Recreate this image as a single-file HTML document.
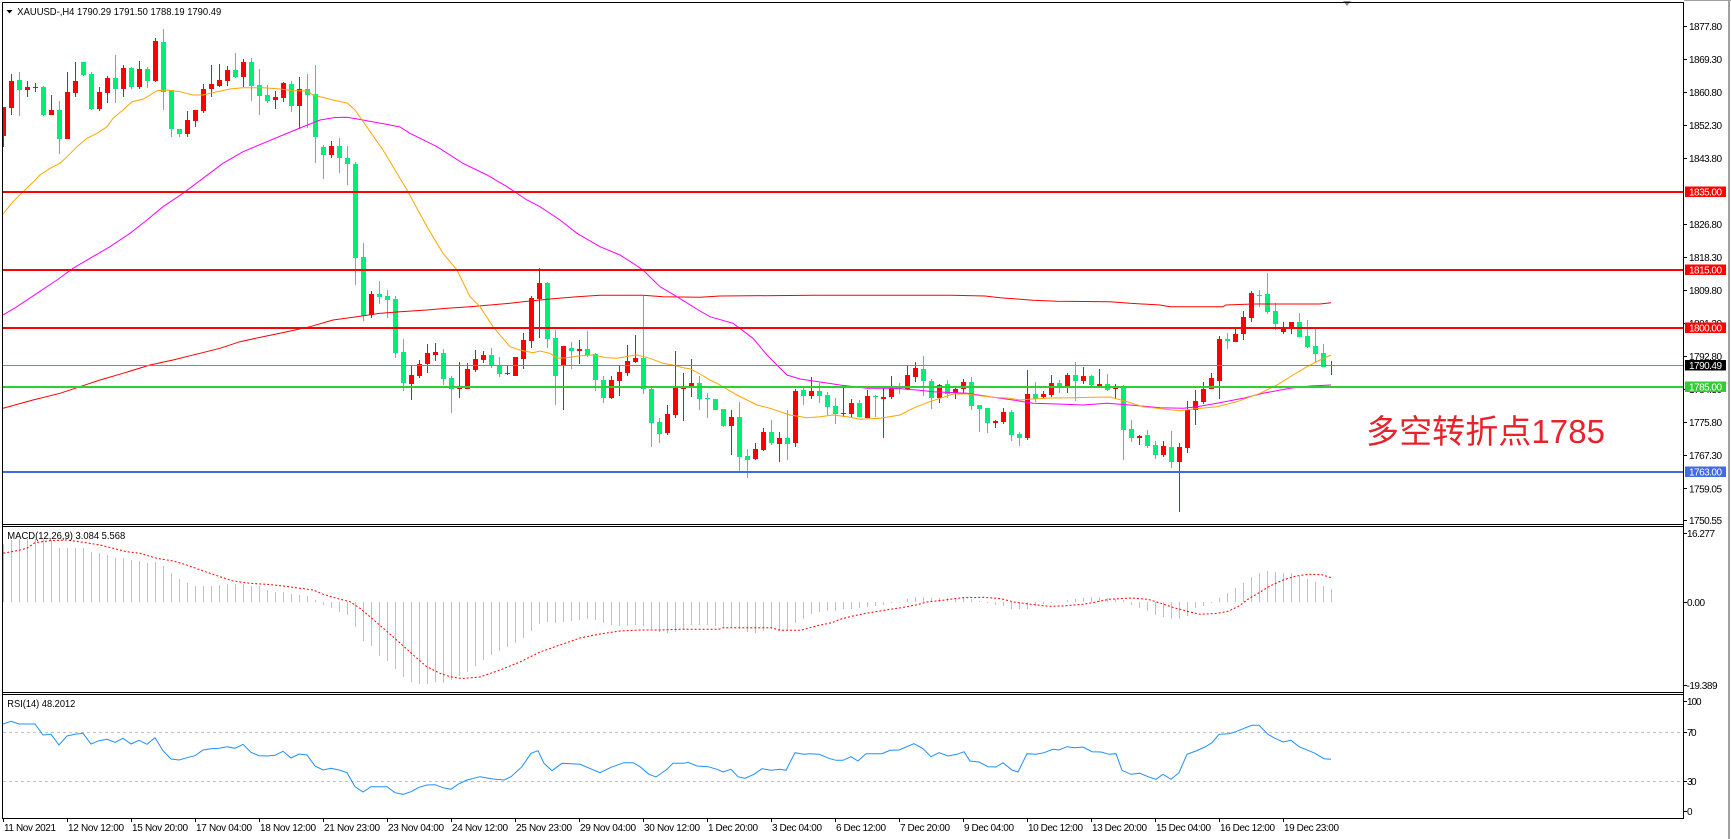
<!DOCTYPE html>
<html><head><meta charset="utf-8"><style>
html,body{margin:0;padding:0;background:#fff;}
svg{display:block;}
text{font-family:"Liberation Sans",Arial,sans-serif;font-size:10px;fill:#000;}
</style></head><body>
<svg width="1731" height="839" viewBox="0 0 1731 839" xmlns="http://www.w3.org/2000/svg">
<defs>
<clipPath id="cm"><rect x="3" y="3" width="1680" height="521"/></clipPath>
<clipPath id="cd"><rect x="3" y="527" width="1680" height="165"/></clipPath>
<clipPath id="cr"><rect x="3" y="695" width="1680" height="123"/></clipPath>
</defs>
<rect x="0" y="0" width="1731" height="839" fill="#fff"/>
<rect x="1728" y="0" width="2" height="839" fill="#a0a0a0"/>
<rect x="1684" y="0" width="47" height="1" fill="#a0a0a0"/>

<!-- MAIN PANEL -->
<g clip-path="url(#cm)">
<!-- candles green -->
<path fill="none" stroke="#00ee76" stroke-width="1" d="M19.5 72V116M43.5 86V116M59.5 101V154M83.5 62V76M91.5 72V110M115.5 55V103M131.5 67V89M147.5 67V88M163.5 29V110M171.5 90V137M179.5 129V137M235.5 53V78M251.5 58V101M259.5 69V115M267.5 85V103M291.5 81V112M307.5 74V128M315.5 65V163M323.5 145V179M339.5 138V173M347.5 146V185M355.5 162V285M363.5 243V321M379.5 281V304M387.5 290V318M395.5 296V358M403.5 339V391M443.5 349V385M451.5 376V413M491.5 348V368M499.5 357V377M547.5 282V348M555.5 330V405M571.5 342V369M587.5 331V357M595.5 353V391M603.5 376V403M643.5 296V394M651.5 388V447M659.5 418V443M699.5 376V410M707.5 393V418M715.5 399V410M723.5 409V427M739.5 402V472M747.5 449V478M771.5 420V445M787.5 410V460M803.5 386V405M819.5 383V403M827.5 392V415M835.5 398V424M859.5 400V417M875.5 395V417M899.5 383V394M923.5 356V396M931.5 379V409M947.5 380V398M971.5 377V410M979.5 405V432M987.5 408V433M1011.5 410V441M1019.5 432V446M1035.5 382V402M1059.5 380V393M1075.5 362V401M1091.5 375V386M1107.5 374V391M1123.5 385V460M1131.5 420V442M1147.5 430V448M1155.5 441V459M1171.5 431V468M1227.5 333V349M1259.5 290V307M1267.5 273V314M1275.5 303V330M1299.5 313V337M1307.5 320V348M1315.5 329V362M1323.5 344V367"/>
<path fill="#00ee76" d="M17 80h5v10h-5zM41 87h5v28h-5zM57 110h5v29h-5zM81 62h5v13h-5zM89 74h5v35h-5zM113 78h5v11h-5zM129 68h5v19h-5zM145 69h5v12h-5zM161 42h5v50h-5zM169 90h5v39h-5zM177 129h5v5h-5zM233 70h5v7h-5zM249 62h5v24h-5zM257 85h5v11h-5zM265 95h5v6h-5zM289 84h5v22h-5zM305 89h5v6h-5zM313 94h5v43h-5zM321 147h5v8h-5zM337 146h5v12h-5zM345 158h5v6h-5zM353 164h5v94h-5zM361 257h5v59h-5zM377 294h5v3h-5zM385 296h5v4h-5zM393 299h5v54h-5zM401 352h5v31h-5zM441 353h5v26h-5zM449 378h5v11h-5zM489 355h5v11h-5zM497 366h5v8h-5zM545 283h5v56h-5zM553 338h5v38h-5zM569 348h5v3h-5zM585 349h5v6h-5zM593 354h5v26h-5zM601 380h5v18h-5zM641 358h5v31h-5zM649 389h5v34h-5zM657 422h5v12h-5zM697 383h5v16h-5zM705 398h5v1h-5zM713 399h5v11h-5zM721 409h5v17h-5zM737 417h5v40h-5zM745 456h5v4h-5zM769 432h5v11h-5zM785 438h5v6h-5zM801 390h5v6h-5zM817 391h5v5h-5zM825 395h5v12h-5zM833 406h5v8h-5zM857 403h5v14h-5zM873 396h5v1h-5zM897 387h5v2h-5zM921 369h5v12h-5zM929 381h5v17h-5zM945 384h5v10h-5zM969 382h5v24h-5zM977 405h5v4h-5zM985 408h5v15h-5zM1009 412h5v23h-5zM1017 434h5v4h-5zM1033 394h5v5h-5zM1057 383h5v4h-5zM1073 375h5v6h-5zM1089 376h5v9h-5zM1105 384h5v6h-5zM1121 387h5v43h-5zM1129 429h5v9h-5zM1145 435h5v11h-5zM1153 445h5v10h-5zM1169 447h5v15h-5zM1225 339h5v2h-5zM1257 295h5v1h-5zM1265 294h5v18h-5zM1273 311h5v13h-5zM1297 322h5v15h-5zM1305 336h5v11h-5zM1313 346h5v8h-5zM1321 353h5v14h-5z"/>
<!-- candles red -->
<path fill="none" stroke="#ff0000" stroke-width="1" d="M3.5 107V147M11.5 74V115M27.5 81V97M35.5 83V92M51.5 95V115M67.5 72V139M75.5 62V97M99.5 87V111M107.5 76V103M123.5 65V97M139.5 61V89M155.5 38V82M187.5 111V137M195.5 110V127M203.5 84V113M211.5 65V97M219.5 64V87M227.5 66V86M243.5 59V87M275.5 91V109M283.5 82V102M299.5 77V129M331.5 141V158M371.5 291V318M411.5 365V400M419.5 360V378M427.5 344V373M435.5 343V361M459.5 362V398M467.5 363V389M475.5 350V372M483.5 351V363M507.5 366V375M515.5 357V376M523.5 333V369M531.5 296V348M539.5 268V338M563.5 346V410M579.5 340V364M611.5 376V399M619.5 366V396M627.5 345V376M635.5 335V363M667.5 405V435M675.5 351V418M683.5 373V421M691.5 359V397M731.5 410V455M755.5 443V460M763.5 428V451M779.5 432V462M795.5 389V447M811.5 377V399M843.5 387V417M851.5 399V417M867.5 390V418M883.5 387V438M891.5 376V399M907.5 366V390M915.5 362V382M939.5 384V403M955.5 386V399M963.5 379V393M995.5 420V428M1003.5 408V424M1027.5 370V440M1043.5 391V398M1051.5 375V397M1067.5 373V393M1083.5 367V384M1099.5 369V387M1115.5 384V399M1139.5 435V445M1163.5 441V457M1179.5 443V512M1187.5 401V453M1195.5 390V425M1203.5 382V404M1211.5 373V389M1219.5 336V399M1235.5 329V342M1243.5 311V340M1251.5 291V322M1283.5 322V334M1291.5 322V334M1331.5 361V375"/>
<path fill="#ff0000" d="M1 107h5v29h-5zM9 81h5v27h-5zM25 87h5v3h-5zM33 87h5v1h-5zM49 110h5v5h-5zM65 92h5v47h-5zM73 81h5v12h-5zM97 92h5v17h-5zM105 78h5v15h-5zM121 68h5v21h-5zM137 69h5v18h-5zM153 41h5v40h-5zM185 120h5v14h-5zM193 110h5v11h-5zM201 89h5v22h-5zM209 84h5v5h-5zM217 80h5v6h-5zM225 70h5v11h-5zM241 62h5v15h-5zM273 97h5v3h-5zM281 83h5v15h-5zM297 89h5v17h-5zM329 146h5v9h-5zM369 294h5v21h-5zM409 375h5v9h-5zM417 364h5v12h-5zM425 353h5v11h-5zM433 352h5v3h-5zM457 388h5v1h-5zM465 369h5v20h-5zM473 359h5v11h-5zM481 355h5v5h-5zM505 373h5v1h-5zM513 357h5v19h-5zM521 340h5v19h-5zM529 298h5v43h-5zM537 283h5v16h-5zM561 346h5v20h-5zM577 349h5v2h-5zM609 380h5v18h-5zM617 372h5v9h-5zM625 361h5v12h-5zM633 358h5v4h-5zM665 414h5v19h-5zM673 387h5v28h-5zM681 388h5v1h-5zM689 383h5v5h-5zM729 417h5v9h-5zM753 449h5v10h-5zM761 432h5v18h-5zM777 438h5v6h-5zM793 391h5v52h-5zM809 391h5v5h-5zM841 413h5v1h-5zM849 403h5v11h-5zM865 396h5v22h-5zM881 397h5v2h-5zM889 388h5v9h-5zM905 375h5v14h-5zM913 368h5v9h-5zM937 385h5v13h-5zM953 389h5v4h-5zM961 382h5v7h-5zM993 421h5v2h-5zM1001 412h5v10h-5zM1025 394h5v44h-5zM1041 394h5v3h-5zM1049 383h5v12h-5zM1065 375h5v12h-5zM1081 376h5v5h-5zM1097 384h5v2h-5zM1113 388h5v1h-5zM1137 436h5v2h-5zM1161 446h5v9h-5zM1177 447h5v15h-5zM1185 410h5v38h-5zM1193 401h5v9h-5zM1201 389h5v13h-5zM1209 378h5v11h-5zM1217 339h5v42h-5zM1233 334h5v8h-5zM1241 317h5v17h-5zM1249 293h5v25h-5zM1281 328h5v4h-5zM1289 322h5v7h-5zM1329 365h5v1h-5z"/>

<!-- moving averages -->
<polyline fill="none" stroke="#ff0000" stroke-width="1" points="3,408.3 33,400 60,393.3 80,386.7 100,380 123,373.3 150,365 173,360 200,353.3 220,348.3 240,341.7 263,336.7 287,331.7 310,326.7 333,320 357,316.7 380,313.3 400,311.7 427,310 447,308.3 470,306.7 490,305 510,303.3 523,301.7 550,299 577,296.7 600,295.3 643,295.3 663,296.7 700,297.3 720,296 815,295.3 952,295.3 985,296 1000,297.7 1017,299 1033,300.3 1057,301.3 1110,301.7 1130,303.3 1160,305 1170,306.7 1223,306.7 1226,305 1253,304 1320,304 1331,302.7"/>
<polyline fill="none" stroke="#ff00ff" stroke-width="1" points="3,315 17,306.7 37,293.3 57,280 73,268.3 90,258.3 110,246.7 130,233.3 147,220 163,206.7 183,193.3 203,178.3 223,163.3 243,151.7 263,143.3 283,135 300,128 320,120 335,117.5 347,117.3 363,120 385,124 400,127 410,133.3 437,146.7 463,163.3 487,175 507,186.7 527,200 540,206.7 560,220 577,233.3 600,246.7 620,255 633,263.3 643,270 660,286.7 677,296.7 693,306.7 700,311 710,316.7 733,323.3 753,338.3 767,355 787,375 800,379 840,385 867,388.3 893,388.3 917,390 933,391.7 967,393.3 990,396.7 1013,400 1033,403.3 1057,404 1083,405 1107,403.3 1130,405 1160,407.7 1183,408.3 1197,406.7 1217,403.3 1243,398.3 1263,393.3 1290,388.3 1310,386 1331,385"/>
<polyline fill="none" stroke="#ffa500" stroke-width="1" points="3,214 13,201.7 23,191.7 32,183.3 40,175 50,168.3 60,163.3 67,156.7 77,146.7 87,138.3 97,133.3 107,126.7 113,118.3 123,110 132,101.7 143,99.3 150,95 157,90.7 167,90 180,91.7 193,95 203,95 217,91.7 230,89 243,87.7 263,87.7 280,89 293,90.7 307,91 313,95 333,100 347,103 355,110 362,120 383,150 407,190 427,226.7 443,253.3 457,270 470,296.7 480,306.7 493,326.7 510,346.7 520,350 533,352.7 540,351 550,353.3 557,358.3 567,357.7 580,355.7 593,355 607,357.7 617,358.3 630,356 637,355 650,358.3 663,363.3 673,365 683,367.7 690,368.7 700,374 710,380 717,383.3 737,395 757,405 770,408.3 790,415 807,417.7 820,416.7 833,415 847,416.7 860,419.3 880,418.3 900,415 913,408.3 927,402.7 940,398.3 953,394 967,394 980,395.7 993,397.3 1010,398.3 1020,400 1033,399 1050,398 1073,397.7 1093,397.3 1110,397 1127,401.7 1143,406.7 1173,410 1180,410.7 1193,409 1217,406.7 1237,401.7 1260,393.3 1277,385 1293,375 1307,366.7 1320,360 1331,355"/>

<!-- horizontal levels -->
<rect x="3" y="191" width="1680" height="2" fill="#ff0000"/>
<rect x="3" y="269" width="1680" height="2" fill="#ff0000"/>
<rect x="3" y="327" width="1680" height="2" fill="#ff0000"/>
<rect x="3" y="365" width="1680" height="1" fill="#778899"/>
<rect x="3" y="386" width="1680" height="2" fill="#32cd32"/>
<rect x="3" y="471" width="1680" height="2" fill="#4169e1"/>
</g>

<!-- header -->
<polygon points="6.5,10 12.5,10 9.5,13.5" fill="#000"/>
<text x="17.3" y="15" textLength="204" lengthAdjust="spacingAndGlyphs">XAUUSD-,H4  1790.29 1791.50 1788.19 1790.49</text>
<polygon points="1343,1 1351,1 1347,6" fill="#8c8c8c"/>

<!-- Chinese annotation -->
<text x="1366" y="443" font-size="33" textLength="239" style="font-family:'Liberation Sans','Noto Sans CJK SC',sans-serif;font-size:33px;fill:#e8222b">多空转折点1785</text>

<!-- MACD panel -->
<g clip-path="url(#cd)">
<path fill="none" stroke="#c0c0c0" stroke-width="1" d="M3.5 602V544M11.5 602V540M19.5 602V539M27.5 602V539M35.5 602V539M43.5 602V539M51.5 602V540M59.5 602V548M67.5 602V548M75.5 602V548M83.5 602V548M91.5 602V552M99.5 602V553M107.5 602V555M115.5 602V558M123.5 602V558M131.5 602V560M139.5 602V561M147.5 602V563M155.5 602V562M163.5 602V566M171.5 602V573M179.5 602V579M187.5 602V583M195.5 602V586M203.5 602V586M211.5 602V586M219.5 602V585M227.5 602V584M235.5 602V584M243.5 602V584M251.5 602V586M259.5 602V586M267.5 602V590M275.5 602V592M283.5 602V592M291.5 602V594M299.5 602V595M307.5 602V596M315.5 602V600M323.5 602V605M331.5 602V608M339.5 602V612M347.5 602V615M355.5 602V627M363.5 602V641M371.5 602V646M379.5 602V656M387.5 602V661M395.5 602V669M403.5 602V677M411.5 602V682M419.5 602V684M427.5 602V684M435.5 602V682M443.5 602V683M451.5 602V680M459.5 602V676M467.5 602V672M475.5 602V666M483.5 602V660M491.5 602V655M499.5 602V651M507.5 602V647M515.5 602V643M523.5 602V638M531.5 602V631M539.5 602V624M547.5 602V622M555.5 602V623M563.5 602V622M571.5 602V621M579.5 602V620M587.5 602V619M595.5 602V620M603.5 602V623M611.5 602V625M619.5 602V626M627.5 602V626M635.5 602V625M643.5 602V626M651.5 602V629M659.5 602V632M667.5 602V633M675.5 602V632M683.5 602V629M691.5 602V625M699.5 602V625M707.5 602V625M715.5 602V626M723.5 602V627M731.5 602V627M739.5 602V629M747.5 602V632M755.5 602V633M763.5 602V631M771.5 602V629M779.5 602V630M787.5 602V630M795.5 602V623M803.5 602V619M811.5 602V614M819.5 602V612M827.5 602V611M835.5 602V611M843.5 602V609M851.5 602V609M859.5 602V608M867.5 602V607M875.5 602V606M883.5 602V605M891.5 602V603M899.5 602V602.5M907.5 602V599M915.5 602V597M923.5 602V597M931.5 602V598M939.5 602V598M947.5 602V598M955.5 602V598M963.5 602V598M971.5 602V599M979.5 602V601M987.5 602V603M995.5 602V605M1003.5 602V606M1011.5 602V609M1019.5 602V609M1027.5 602V609M1035.5 602V606M1043.5 602V604M1051.5 602V603M1059.5 602V602.5M1067.5 602V600M1075.5 602V599M1083.5 602V598M1091.5 602V597M1099.5 602V597M1107.5 602V598M1115.5 602V599M1123.5 602V600M1131.5 602V605M1139.5 602V608M1147.5 602V611M1155.5 602V615M1163.5 602V617M1171.5 602V619M1179.5 602V619M1187.5 602V616M1195.5 602V608M1203.5 602V606M1211.5 602V603M1219.5 602V598M1227.5 602V593M1235.5 602V588M1243.5 602V583M1251.5 602V577M1259.5 602V573M1267.5 602V571M1275.5 602V572M1283.5 602V573M1291.5 602V573M1299.5 602V576M1307.5 602V579M1315.5 602V582M1323.5 602V586M1331.5 602V589"/>
<polyline fill="none" stroke="#ff0000" stroke-width="1" stroke-dasharray="2,2" points="3.3,553.3 20,550 26.7,548.3 35,542.7 50,540.7 66.7,540 83.3,542.3 100,545 113.3,548.3 126.7,551.7 140,553.3 156.7,558.3 173.3,561 186.7,565 203.3,571 220,576.7 233.3,581 250,583.3 266.7,584.3 283.3,586 300,588.3 313.3,590 323.3,594.3 336.7,598.3 350,601.7 360,608.3 370,616.7 383.3,628.3 396.7,640 413.3,655 426.7,666.7 440,673.3 450,676.7 462,678.5 480,677 500,670 520,662 540,652 560,645 580,638 600,634 620,631 640,630 660,630 680,629.3 719,629.3 723,627.7 771,627.7 780,630.3 801,630.3 810,627.7 819,625.3 832,622.7 840,619.3 853,616 866,613.3 884,610.3 901,607.7 916,605 927,602 945,600 962,597.7 984,597.3 1001,598.7 1014,602 1031,604.3 1049,606.3 1062,606 1083,604.3 1096,602 1109,599.3 1131,598 1148,599.3 1161,603.3 1174,607.7 1190,612 1200,614.3 1218,613.3 1229,611 1239,606 1248,599.3 1259,592.7 1270,586 1283,580 1296,576 1309,574.3 1322,574.7 1331,577.7"/>
</g>
<text x="7.3" y="539" textLength="118" lengthAdjust="spacingAndGlyphs">MACD(12,26,9) 3.084 5.568</text>

<!-- RSI panel -->
<g clip-path="url(#cr)">
<line x1="3" y1="732.5" x2="1683" y2="732.5" stroke="#c0c0c0" stroke-width="1" stroke-dasharray="3,3"/>
<line x1="3" y1="781.5" x2="1683" y2="781.5" stroke="#c0c0c0" stroke-width="1" stroke-dasharray="3,3"/>
<polyline fill="none" stroke="#1e90ff" stroke-width="1" points="3,724 11,721.3 19,724 27,724 35,724 43,735 51,734.3 59,745 67,736 75,734.3 83,733.3 91,744 99,740.7 107,739.3 115,742.3 123,738.3 131,744 139,740.3 147,744.3 155,737.7 163,750.7 171,759 179,760 187,757.7 195,755.7 203,750 211,748.7 219,748.3 227,746.7 235,748.3 243,744.3 251,752.3 259,755.7 267,756 275,755.3 283,751.3 291,758 299,754 307,755 315,766 323,770 331,768.3 339,770 347,772.7 355,786.7 363,792 371,786.7 379,786.7 387,786.7 395,792.7 403,794.3 411,791.7 419,787.3 427,785 435,784.7 443,787.7 451,789.3 458,784.3 467,780 480,776.7 493,779 504,780 511,776.7 522,766.7 531,753.3 538,750.7 544,763.3 552,770.7 562,763.3 580,764.3 600,772.7 611,767.3 624,762.7 633,762.7 640,766.7 649,774.3 656,777 667,769.3 673,763.3 684,763.3 688,762.3 697,766 708,766.7 717,769.3 723,772 731,769.3 738,776.7 745,778.3 754,774.3 762,768.7 771,770.3 780,769.3 786,770.3 795,752.7 804,754.3 810,753.7 819,754.3 830,758.7 836,760.3 843,760.3 851,756.7 858,761 866,753.7 882,753.7 890,750.3 899,750 914,743.7 923,748.7 931,756.7 939,752.7 948,756 957,754.3 964,751.7 970,761 979,762 988,766.7 996,767 1003,762.7 1012,770 1018,772 1027,753.7 1036,754.3 1044,752.7 1053,749.3 1059,750 1067,746.7 1075,747.7 1083,747 1092,751.7 1101,752 1109,754.3 1116,753.7 1122,770.3 1131,774.3 1140,773.3 1148,776.7 1156,779.3 1163,774.3 1171,779.3 1179,772.7 1187,754.3 1196,751 1205,747 1212,742.7 1219,734.3 1229,733.7 1236,731.7 1244,728.3 1252,725.3 1259,725.3 1268,734.3 1275,738.3 1283,742 1291,740.3 1299,746.7 1308,750.3 1315,753.3 1324,758.7 1331,759.3"/>
</g>
<text x="7.3" y="707" textLength="68" lengthAdjust="spacingAndGlyphs">RSI(14) 48.2012</text>

<!-- frames -->
<g fill="#000">
<rect x="2" y="2" width="1682" height="1"/>
<rect x="2" y="2" width="1" height="817"/>
<rect x="1683" y="2" width="1" height="817"/>
<rect x="2" y="524" width="1682" height="1"/>
<rect x="2" y="526" width="1682" height="1"/>
<rect x="2" y="692" width="1682" height="1"/>
<rect x="2" y="694" width="1682" height="1"/>
<rect x="2" y="818" width="1682" height="1"/>
</g>

<!-- price axis ticks -->
<g fill="#000">
<rect x="1683" y="26" width="4" height="1"/><rect x="1683" y="59" width="4" height="1"/><rect x="1683" y="92" width="4" height="1"/><rect x="1683" y="125" width="4" height="1"/><rect x="1683" y="158" width="4" height="1"/><rect x="1683" y="224" width="4" height="1"/><rect x="1683" y="257" width="4" height="1"/><rect x="1683" y="290" width="4" height="1"/><rect x="1683" y="323" width="4" height="1"/><rect x="1683" y="356" width="4" height="1"/><rect x="1683" y="389" width="4" height="1"/><rect x="1683" y="422" width="4" height="1"/><rect x="1683" y="455" width="4" height="1"/><rect x="1683" y="488" width="4" height="1"/><rect x="1683" y="520" width="4" height="1"/>
<rect x="1683" y="533" width="4" height="1"/><rect x="1683" y="602" width="4" height="1"/><rect x="1683" y="685" width="4" height="1"/>
<rect x="1683" y="701" width="4" height="1"/><rect x="1683" y="732" width="4" height="1"/><rect x="1683" y="781" width="4" height="1"/><rect x="1683" y="811" width="4" height="1"/>
</g>
<g>
<text x="1689" y="30.2" textLength="33">1877.80</text>
<text x="1689" y="63.2" textLength="33">1869.30</text>
<text x="1689" y="96.2" textLength="33">1860.80</text>
<text x="1689" y="129.2" textLength="33">1852.30</text>
<text x="1689" y="162.2" textLength="33">1843.80</text>
<text x="1689" y="228.2" textLength="33">1826.80</text>
<text x="1689" y="261.2" textLength="33">1818.30</text>
<text x="1689" y="294.2" textLength="33">1809.80</text>
<text x="1689" y="327.2" textLength="33">1801.30</text>
<text x="1689" y="360.2" textLength="33">1792.80</text>
<text x="1689" y="393.2" textLength="33">1784.30</text>
<text x="1689" y="426.2" textLength="33">1775.80</text>
<text x="1689" y="459.2" textLength="33">1767.30</text>
<text x="1689" y="492.5" textLength="33">1759.05</text>
<text x="1689" y="524.2" textLength="33">1750.55</text>
<text x="1687" y="537" textLength="28">16.277</text>
<text x="1687" y="605.8" textLength="18">0.00</text>
<text x="1686.5" y="689.2" textLength="31">-19.389</text>
<text x="1687" y="705.2" textLength="14.5">100</text>
<text x="1687" y="735.8" textLength="9.5">70</text>
<text x="1687" y="784.8" textLength="9.5">30</text>
<text x="1687" y="815.2" textLength="4.5">0</text>
</g>
<!-- level boxes -->
<rect x="1685" y="186.5" width="41" height="10.5" fill="#ff0000"/>
<rect x="1685" y="264.5" width="41" height="10.5" fill="#ff0000"/>
<rect x="1685" y="322.5" width="41" height="10.5" fill="#ff0000"/>
<rect x="1685" y="360" width="41" height="10.5" fill="#000"/>
<rect x="1685" y="381.5" width="41" height="10.5" fill="#32cd32"/>
<rect x="1685" y="466.5" width="41" height="10.5" fill="#4169e1"/>
<g style="fill:#fff">
<text x="1689" y="195.3" textLength="33" style="fill:#fff">1835.00</text>
<text x="1689" y="273.3" textLength="33" style="fill:#fff">1815.00</text>
<text x="1689" y="331.3" textLength="33" style="fill:#fff">1800.00</text>
<text x="1689" y="368.8" textLength="33" style="fill:#fff">1790.49</text>
<text x="1689" y="390.3" textLength="33" style="fill:#fff">1785.00</text>
<text x="1689" y="475.3" textLength="33" style="fill:#fff">1763.00</text>
</g>

<!-- time axis -->
<g fill="#000">
<rect x="3" y="818" width="1" height="4"/><rect x="67" y="818" width="1" height="4"/><rect x="131" y="818" width="1" height="4"/><rect x="195" y="818" width="1" height="4"/><rect x="259" y="818" width="1" height="4"/><rect x="323" y="818" width="1" height="4"/><rect x="387" y="818" width="1" height="4"/><rect x="451" y="818" width="1" height="4"/><rect x="515" y="818" width="1" height="4"/><rect x="579" y="818" width="1" height="4"/><rect x="643" y="818" width="1" height="4"/><rect x="707" y="818" width="1" height="4"/><rect x="771" y="818" width="1" height="4"/><rect x="835" y="818" width="1" height="4"/><rect x="899" y="818" width="1" height="4"/><rect x="963" y="818" width="1" height="4"/><rect x="1027" y="818" width="1" height="4"/><rect x="1091" y="818" width="1" height="4"/><rect x="1155" y="818" width="1" height="4"/><rect x="1219" y="818" width="1" height="4"/><rect x="1283" y="818" width="1" height="4"/>
</g>
<g>
<text x="4" y="831" textLength="52">11 Nov 2021</text>
<text x="68" y="831" textLength="56">12 Nov 12:00</text>
<text x="132" y="831" textLength="56">15 Nov 20:00</text>
<text x="196" y="831" textLength="56">17 Nov 04:00</text>
<text x="260" y="831" textLength="56">18 Nov 12:00</text>
<text x="324" y="831" textLength="56">21 Nov 23:00</text>
<text x="388" y="831" textLength="56">23 Nov 04:00</text>
<text x="452" y="831" textLength="56">24 Nov 12:00</text>
<text x="516" y="831" textLength="56">25 Nov 23:00</text>
<text x="580" y="831" textLength="56">29 Nov 04:00</text>
<text x="644" y="831" textLength="56">30 Nov 12:00</text>
<text x="708" y="831" textLength="50">1 Dec 20:00</text>
<text x="772" y="831" textLength="50">3 Dec 04:00</text>
<text x="836" y="831" textLength="50">6 Dec 12:00</text>
<text x="900" y="831" textLength="50">7 Dec 20:00</text>
<text x="964" y="831" textLength="50">9 Dec 04:00</text>
<text x="1028" y="831" textLength="55">10 Dec 12:00</text>
<text x="1092" y="831" textLength="55">13 Dec 20:00</text>
<text x="1156" y="831" textLength="55">15 Dec 04:00</text>
<text x="1220" y="831" textLength="55">16 Dec 12:00</text>
<text x="1284" y="831" textLength="55">19 Dec 23:00</text>
</g>
</svg>
</body></html>
